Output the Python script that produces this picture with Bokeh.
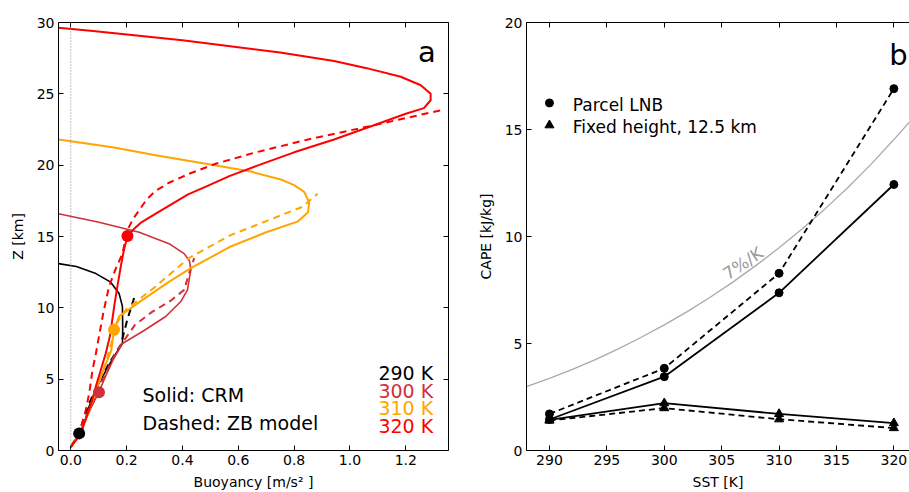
from bokeh.plotting import figure
from bokeh.models import Range1d, LinearAxis, FixedTicker, PrintfTickFormatter, Span
from bokeh.layouts import row
from bokeh.embed import file_html
from bokeh.resources import INLINE
from bokeh.core.properties import value

FONT = "DejaVu Sans"

# ---------------- panel a: buoyancy profiles ----------------
sst_labels = ["290 K", "300 K", "310 K", "320 K"]
colors = ["black", "#d0303a", "#ffa500", "#ff0000"]

b290_crm = [0.0, 0.03, 0.042, 0.066, 0.095, 0.149, 0.185, 0.186, 0.185, 0.173, 0.143, 0.09, 0.02, -0.044]
z290_crm = [0.25, 1.2, 1.5, 3.1, 4.5, 6.4, 7.5, 8.5, 10.1, 11.0, 11.8, 12.4, 12.9, 13.1]
b290_zb = [0.0, 0.03, 0.05, 0.066, 0.095, 0.14, 0.179, 0.203, 0.227]
z290_zb = [0.25, 1.2, 2.5, 3.3, 4.6, 6.2, 7.4, 9.2, 10.7]

b300_crm = [0.0, 0.03, 0.06, 0.085, 0.101, 0.12, 0.15, 0.185, 0.257, 0.34, 0.394, 0.418, 0.43, 0.425, 0.406, 0.352, 0.245, 0.101, -0.044]
z300_crm = [0.25, 1.1, 2.5, 3.5, 4.1, 5.0, 6.3, 7.5, 8.34, 9.39, 10.44, 11.26, 12.66, 13.3, 13.8, 14.5, 15.3, 16.0, 16.6]
b300_zb = [0.0, 0.03, 0.06, 0.085, 0.12, 0.16, 0.19, 0.23, 0.29, 0.358, 0.406, 0.424, 0.442]
z300_zb = [0.25, 1.1, 2.5, 3.6, 5.2, 6.8, 7.7, 8.8, 9.7, 10.5, 11.26, 12.43, 13.48]

b310_crm = [0.0, 0.03, 0.06, 0.09, 0.12, 0.145, 0.155, 0.173, 0.257, 0.35, 0.43, 0.573, 0.7, 0.812, 0.85, 0.854, 0.836, 0.8, 0.752, 0.645, 0.5, 0.304, 0.15, -0.044]
z310_crm = [0.25, 1.1, 2.5, 4.2, 5.8, 7.0, 8.46, 9.4, 10.56, 11.8, 12.78, 14.3, 15.3, 16.04, 16.7, 17.4, 18.13, 18.6, 19.0, 19.55, 20.05, 20.7, 21.25, 21.8]
b310_zb = [0.0, 0.03, 0.06, 0.09, 0.12, 0.145, 0.16, 0.197, 0.304, 0.424, 0.573, 0.70, 0.83, 0.884]
z310_zb = [0.25, 1.1, 2.5, 4.2, 5.8, 7.5, 8.8, 9.86, 11.5, 13.5, 15.1, 16.08, 17.08, 18.0]

b320_crm = [0.0, 0.03, 0.054, 0.075, 0.09, 0.11, 0.125, 0.14, 0.149, 0.157, 0.167, 0.18, 0.192, 0.203, 0.227, 0.25, 0.3, 0.36, 0.42, 0.484, 0.57, 0.663, 0.8, 0.943, 1.086, 1.2, 1.265, 1.289, 1.289, 1.254, 1.182, 1.06, 0.943, 0.75, 0.585, 0.4, 0.227, 0.08, -0.044]
z320_crm = [0.25, 1.0, 2.2, 3.4, 4.5, 5.8, 6.8, 8.0, 9.2, 10.3, 11.5, 13.0, 14.2, 15.0, 15.55, 15.95, 16.55, 17.25, 17.95, 18.5, 19.25, 19.93, 20.9, 21.8, 22.8, 23.6, 24.0, 24.55, 25.0, 25.6, 26.2, 26.8, 27.3, 27.9, 28.3, 28.75, 29.1, 29.4, 29.63]
b320_zb = [0.0, 0.03, 0.05, 0.066, 0.078, 0.09, 0.101, 0.118, 0.137, 0.16, 0.185, 0.203, 0.222, 0.245, 0.272, 0.304, 0.35, 0.424, 0.519, 0.663, 0.85, 1.086, 1.2, 1.337]
z320_zb = [0.25, 1.2, 2.5, 4.0, 5.66, 6.8, 8.0, 9.8, 11.5, 12.7, 13.8, 15.45, 16.2, 16.85, 17.6, 18.2, 18.75, 19.4, 20.1, 20.9, 21.8, 22.8, 23.3, 23.9]

dot_b = [0.03, 0.101, 0.155, 0.203]
dot_z = [1.2, 4.08, 8.46, 15.03]

a_xticks = [0.0, 0.2, 0.4, 0.6, 0.8, 1.0, 1.2]
a_yticks = [0, 5, 10, 15, 20, 25, 30]

# ---------------- panel b: CAPE vs SST ----------------
sst = [290, 300, 310, 320]
cape_lnb_crm = [1.45, 3.45, 7.37, 12.43]
cape_lnb_zb = [1.71, 3.84, 8.28, 16.91]
cape_fix_crm = [1.43, 2.21, 1.71, 1.28]
cape_fix_zb = [1.40, 1.98, 1.46, 1.05]
ref_sst = [288, 290, 292, 294, 296, 298, 300, 302, 304, 306, 308, 310, 312, 314, 316, 318, 320, 321.4]
ref_cape = [2.99, 3.37, 3.79, 4.25, 4.75, 5.29, 5.87, 6.49, 7.16, 7.88, 8.65, 9.47, 10.35, 11.29, 12.29, 13.37, 14.53, 15.38]
b_xticks = [290, 295, 300, 305, 310, 315, 320]
b_yticks = [0, 5, 10, 15, 20]


def style_axis(ax, ticks, labels=True):
    ax.ticker = FixedTicker(ticks=ticks, minor_ticks=[])
    ax.major_tick_in = 5
    ax.major_tick_out = 0
    ax.minor_tick_in = 0
    ax.minor_tick_out = 0
    ax.axis_line_color = "black"
    ax.axis_line_width = 1
    ax.major_tick_line_color = "black"
    ax.major_label_text_font = FONT
    ax.major_label_text_color = "black"
    ax.axis_label_text_font = FONT
    ax.axis_label_text_font_style = "normal"
    ax.axis_label_text_color = "black"
    ax.axis_label_text_font_size = "14px"
    ax.major_label_text_font_size = "14px"
    if labels:
        ax.major_label_standoff = 4
        ax.axis_label_standoff = 4
    else:
        ax.major_label_overrides = {t: "" for t in ticks}
        ax.major_label_text_font_size = "8px"
        ax.major_label_standoff = 0


# ---------- figure a ----------
p1 = figure(width=468, height=492, output_backend="svg", toolbar_location=None,
            x_range=Range1d(-0.044, 1.353), y_range=Range1d(0, 30),
            min_border_left=58, min_border_right=20, min_border_top=22, min_border_bottom=41)
p1.outline_line_color = None
p1.xgrid.visible = False
p1.ygrid.visible = False

style_axis(p1.xaxis[0], a_xticks)
p1.xaxis[0].formatter = PrintfTickFormatter(format="%.1f")
p1.xaxis[0].axis_label = "Buoyancy [m/s² ]"
p1.xaxis[0].axis_label_standoff = 6
style_axis(p1.yaxis[0], a_yticks)
p1.yaxis[0].axis_label = "Z [km]"
p1.yaxis[0].axis_label_standoff = 8
top1 = LinearAxis()
style_axis(top1, a_xticks, labels=False)
p1.add_layout(top1, "above")
right1 = LinearAxis()
style_axis(right1, a_yticks, labels=False)
p1.add_layout(right1, "right")

p1.add_layout(Span(location=0, dimension="height", line_color="#888888",
                   line_dash="1 2", line_width=1))

profiles = [
    (b290_crm, z290_crm, b290_zb, z290_zb),
    (b300_crm, z300_crm, b300_zb, z300_zb),
    (b310_crm, z310_crm, b310_zb, z310_zb),
    (b320_crm, z320_crm, b320_zb, z320_zb),
]
for (bc, zc, bz, zz), col in zip(profiles, colors):
    lw = 1.6 if col in ("black", "#d0303a") else 2.0
    p1.line(bc, zc, line_color=col, line_width=lw, line_join="round")
    p1.line(bz, zz, line_color=col, line_width=2.0, line_dash="7 5", line_join="round")

p1.scatter(dot_b, dot_z, size=12, color=colors, line_color=None)

p1.text(x=[1.307], y=[27.9], text=["a"], text_font=value(FONT), text_font_size=value("29px"),
        text_align="right", text_baseline="alphabetic", text_color="black")
p1.text(x=[0.257, 0.257], y=[3.92, 1.94], text=["Solid: CRM", "Dashed: ZB model"],
        text_font=value(FONT), text_font_size=value("19px"), text_align="left",
        text_baseline="alphabetic", text_color="black")
p1.text(x=[1.298] * 4, y=[5.43, 4.15, 2.95, 1.7], text=sst_labels,
        text_font=value(FONT), text_font_size=value("19px"), text_align="right",
        text_baseline="alphabetic", text_color=colors)

# ---------- figure b ----------
p2 = figure(width=441, height=492, output_backend="svg", toolbar_location=None,
            x_range=Range1d(288.0, 321.36), y_range=Range1d(0, 20),
            min_border_left=58, min_border_right=0, min_border_top=22, min_border_bottom=41)
p2.outline_line_color = None
p2.xgrid.visible = False
p2.ygrid.visible = False

style_axis(p2.xaxis[0], b_xticks)
p2.xaxis[0].axis_label = "SST [K]"
p2.xaxis[0].axis_label_standoff = 6
style_axis(p2.yaxis[0], b_yticks)
p2.yaxis[0].axis_label = "CAPE [kJ/kg]"
p2.yaxis[0].axis_label_standoff = 8
top2 = LinearAxis()
style_axis(top2, b_xticks, labels=False)
p2.add_layout(top2, "above")

p2.line(ref_sst, ref_cape, line_color="#aaaaaa", line_width=1.3)
p2.text(x=[306.85], y=[8.75], text=["7%/K"], angle=0.59, text_font=value(FONT),
        text_font_size=value("17px"), text_align="center", text_baseline="middle",
        text_color="#9a9a9a")

p2.line(sst, cape_lnb_crm, line_color="black", line_width=1.8)
p2.line(sst, cape_lnb_zb, line_color="black", line_width=1.8, line_dash="6 4")
p2.line(sst, cape_fix_crm, line_color="black", line_width=1.8)
p2.line(sst, cape_fix_zb, line_color="black", line_width=1.8, line_dash="6 4")
p2.scatter(sst, cape_lnb_crm, marker="circle", size=8, color="black")
p2.scatter(sst, cape_lnb_zb, marker="circle", size=8, color="black")
p2.scatter(sst, cape_fix_crm, marker="triangle", size=9, color="black")
p2.scatter(sst, cape_fix_zb, marker="triangle", size=9, color="black")

# legend
p2.scatter([290], [16.24], marker="circle", size=8, color="black")
p2.scatter([290], [15.2], marker="triangle", size=9, color="black")
p2.text(x=[292.03, 292.03], y=[16.13, 15.12], text=["Parcel LNB", "Fixed height, 12.5 km"],
        text_font=value(FONT), text_font_size=value("17px"), text_align="left",
        text_baseline="alphabetic", text_color="black")
p2.text(x=[319.6], y=[18.46], text=["b"], text_font=value(FONT), text_font_size=value("29px"),
        text_align="left", text_baseline="alphabetic", text_color="black")

layout = row(p1, p2)
open("out.html", "w").write(file_html(layout, INLINE))
